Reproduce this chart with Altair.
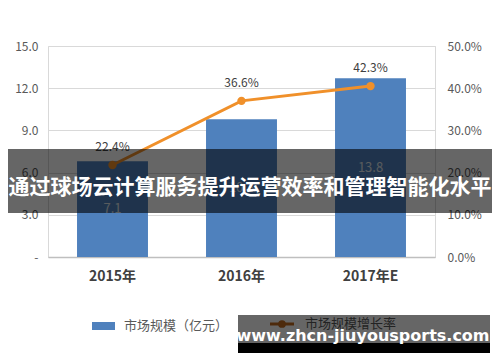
import altair as alt
import pandas as pd

# ---- data ----
years = ["2015年", "2016年", "2017年E"]
market_size = [6.8, 9.8, 12.7]          # bar heights (亿元)
market_labels = ["7.1", "10.3", "13.8"]  # printed bar labels
growth = [21.8, 37.0, 40.5]             # line point heights (%)
growth_labels = ["22.4%", "36.6%", "42.3%"]

left_ticks = [0, 3, 6, 9, 12, 15]
right_ticks = [0, 10, 20, 30, 40, 50]

banner_text = "通过球场云计算服务提升运营效率和管理智能化水平"
watermark_text = "www.zhcn-jiuyousports.com"
legend_bar = "市场规模（亿元）"
legend_line = "市场规模增长率"

FONT = "Noto Sans CJK SC"
BLUE = "#4F81BD"
ORANGE = "#F0902A"

df = pd.DataFrame({
    "year": years,
    "size": market_size,
    "size_label": market_labels,
    "growth": growth,
    "growth_label": growth_labels,
})

x_enc = alt.X("year:N", sort=years, title=None,
              scale=alt.Scale(paddingInner=0.45, paddingOuter=0.225),
              axis=alt.Axis(labelAngle=0, ticks=False, labelPadding=12,
                            labelFontSize=14, labelFontWeight="bold",
                            labelColor="#404040", labelFont=FONT,
                            domainColor="#bfbfbf", domainWidth=1.5))

y_left = alt.Y("size:Q", title=None,
               scale=alt.Scale(domain=[0, 15], nice=False),
               axis=alt.Axis(values=left_ticks, orient="left", ticks=False,
                             domain=False, labelPadding=10, labelFontSize=12,
                             labelColor="#595959", labelFont=FONT,
                             gridColor="#d9d9d9",
                             labelExpr="datum.value == 0 ? '-\u00a0\u00a0' : format(datum.value, '.1f')"))

base = alt.Chart(df)

bars = base.mark_bar(color=BLUE).encode(x=x_enc, y=y_left)
bar_text = base.transform_calculate(mid="datum.size / 2").mark_text(
    font=FONT, fontSize=13, color="#dde3ea", baseline="middle"
).encode(x=alt.X("year:N", sort=years), y=alt.Y("mid:Q"), text="size_label:N")

left_layer = alt.layer(bars, bar_text)

y_right = alt.Y("growth:Q", title=None,
                scale=alt.Scale(domain=[0, 50], nice=False),
                axis=alt.Axis(values=right_ticks, orient="right", ticks=False,
                              domain=False, grid=False, labelPadding=12,
                              labelFontSize=12, labelColor="#595959",
                              labelFont=FONT,
                              labelExpr="format(datum.value, '.1f') + '%'"))

line = base.mark_line(color=ORANGE, strokeWidth=3).encode(
    x=alt.X("year:N", sort=years), y=y_right)
points = base.mark_point(color=ORANGE, filled=True, size=70, opacity=1).encode(
    x=alt.X("year:N", sort=years), y=alt.Y("growth:Q"))
line_text = base.mark_text(font=FONT, fontSize=12, color="#404040", dy=-18).encode(
    x=alt.X("year:N", sort=years), y=alt.Y("growth:Q"), text="growth_label:N")

right_layer = alt.layer(line, points, line_text)

one = alt.Data(values=[{"k": 1}])

# legend (drawn manually)
leg_rect = alt.Chart(one).mark_rect(color=BLUE).encode(
    x=alt.value(44), x2=alt.value(67), y=alt.value(276), y2=alt.value(284))
leg_text1 = alt.Chart(one).mark_text(text=legend_bar, font=FONT, fontSize=13,
                                     color="#595959", align="left", baseline="middle").encode(
    x=alt.value(76), y=alt.value(280))
leg_line = alt.Chart(one).mark_rule(color="#C0691E", strokeWidth=3).encode(
    x=alt.value(222), x2=alt.value(246), y=alt.value(278))
leg_pt = alt.Chart(one).mark_point(color="#C0691E", filled=True, size=60, opacity=1).encode(
    x=alt.value(234), y=alt.value(278))
leg_text2 = alt.Chart(one).mark_text(text=legend_line, font=FONT, fontSize=13,
                                     color="#595959", align="left", baseline="middle").encode(
    x=alt.value(257), y=alt.value(278))

# overlays
banner = alt.Chart(one).mark_rect(color="black", opacity=0.6).encode(
    x=alt.value(-40), x2=alt.value(444), y=alt.value(103), y2=alt.value(167))
banner_t = alt.Chart(one).mark_text(text=banner_text, font=FONT, fontSize=21,
                                    fontWeight="bold", color="white",
                                    baseline="middle").encode(
    x=alt.value(202), y=alt.value(142))
wm_gray = alt.Chart(one).mark_rect(color="black", opacity=0.6).encode(
    x=alt.value(190), x2=alt.value(442), y=alt.value(269), y2=alt.value(297))
wm_black = alt.Chart(one).mark_rect(color="black").encode(
    x=alt.value(190), x2=alt.value(442), y=alt.value(297), y2=alt.value(307))
wm_t = alt.Chart(one).mark_text(text=watermark_text, font="DejaVu Sans",
                                fontSize=16, fontWeight="bold", color="white",
                                baseline="alphabetic").encode(
    x=alt.value(315), y=alt.value(295))

overlay = alt.layer(leg_rect, leg_text1, leg_line, leg_pt, leg_text2,
                    banner, banner_t, wm_gray, wm_black, wm_t)

chart = alt.layer(left_layer, right_layer, overlay).resolve_scale(
    y="independent"
).properties(
    width=387, height=211,
    padding={"left": 40, "top": 38, "right": 57, "bottom": 96},
    autosize=alt.AutoSizeParams(type="none"),
    background="white",
).configure_view(stroke="#d9d9d9")

chart.save("out.html", embed_options={"renderer": "svg", "actions": False})
